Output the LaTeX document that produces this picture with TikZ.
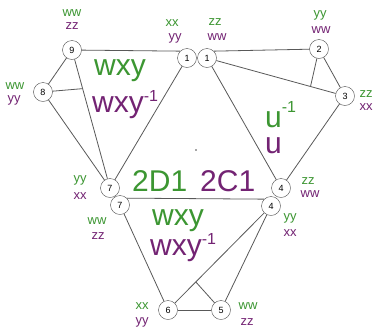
\documentclass[tikz,border=0pt]{standalone}
\usepackage{fontspec}
\setmainfont{Liberation Sans}
\usetikzlibrary{positioning,calc}
\definecolor{lblgreen}{RGB}{60,150,50}
\definecolor{lblpurple}{RGB}{115,35,115}
\newcommand{\invsup}[1][11pt]{\raisebox{#1}{\fontsize{16}{16}\selectfont -1}}

\begin{document}
\begin{tikzpicture}[x=1pt, y=-1pt, every node/.style={font=\fontsize{13}{13}\selectfont, inner sep=1pt}, v/.style={draw=black!70, circle, fill=white, minimum size=19pt, inner sep=0pt, font=\fontsize{9}{9}\selectfont}, edge/.style={draw=black!65, line width=0.8pt}, g/.style={text=lblgreen}, p/.style={text=lblpurple}, big/.style={font=\fontsize{30}{30}\selectfont, anchor=base west, inner sep=0pt}]
	\fill[white] (0,0) rectangle (374,330);
	\useasboundingbox (0,0) rectangle (374,330);
	% vertices
	\node[v] (9) at (72,50) {9};
	\node[v] (8) at (43,92) {8};
	\node[v] (1L) at (187,58) {1};
	\node[v] (1R) at (207,58) {1};
	\node[v] (2) at (319,49) {2};
	\node[v] (3) at (345,96) {3};
	\node[v] (7U) at (110,188) {7};
	\node[v] (7L) at (120,205) {7};
	\node[v] (4U) at (281,188) {4};
	\node[v] (4L) at (271,206) {4};
	\node[v] (6) at (168,310) {6};
	\node[v] (5) at (221,310) {5};
	% edges
	\coordinate (j8) at ($(9)!0.28!(7U)$);
	\coordinate (j2) at ($(1R)!0.75!(3)$);
	\coordinate (j5) at ($(6)!0.27!(4L)$);
	\draw[edge] (9) -- (8);
	\draw[edge] (9) -- (7U);
	\draw[edge] (8) -- (7U);
	\draw[edge] (8) -- (j8);
	\draw[edge] (9) -- (1L.north west);
	\draw[edge] (1R.north east) -- (2);
	\draw[edge] (1R) -- (3);
	\draw[edge] (2) -- (3);
	\draw[edge] (2) -- (j2);
	\draw[edge] (1L) -- (7U);
	\draw[edge] (1R) -- (4U);
	\draw[edge] (3) -- (4U);
	\draw[edge] (7L.north east) -- (4L.north west);
	\draw[edge] (7L) -- (6);
	\draw[edge] (4L) -- (6);
	\draw[edge] (4L) -- (5);
	\draw[edge] (6) -- (5);
	\draw[edge] (5) -- (j5);
	% small labels
	\node[g] (l9a) at (72,13) {ww};
	\node[p] (l9b) at (72,26) {zz};
	\node[g] (l8a) at (15,86) {ww};
	\node[p] (l8b) at (14,100) {yy};
	\node[g] (l1a) at (172,23) {xx};
	\node[p] (l1b) at (175,38) {yy};
	\node[g] (l1c) at (215,22) {zz};
	\node[p] (l1d) at (217,37) {ww};
	\node[g] (l2a) at (320,15) {yy};
	\node[p] (l2b) at (321,30) {ww};
	\node[g] (l3a) at (366,94) {zz};
	\node[p] (l3b) at (366,107) {xx};
	\node[g] (l7a) at (80,180) {yy};
	\node[p] (l7b) at (80,196) {xx};
	\node[g] (l7c) at (97,221) {ww};
	\node[p] (l7d) at (98,236) {zz};
	\node[g] (l4a) at (308,181) {zz};
	\node[p] (l4b) at (310,194) {ww};
	\node[g] (l4c) at (290,218) {yy};
	\node[p] (l4d) at (290,233) {xx};
	\node[g] (l6a) at (142,306) {xx};
	\node[p] (l6b) at (142,322) {yy};
	\node[g] (l5a) at (248,306) {ww};
	\node[p] (l5b) at (247,322) {zz};
	% face words
	\node[big, g] (w1) at (94,75) {wxy};
	\node[big, p] (w2) at (92,112) {wxy\invsup};
	\node[big, g] (u1) at (265,127) {u\invsup[15pt]};
	\node[big, p] (u2) at (265,153) {u};
	\node[big, g] (d1) at (132,191) {2D1};
	\node[big, p] (c1) at (200,191) {2C1};
	\node[big, g] (w3) at (152,225) {wxy};
	\node[big, p] (w4) at (150,255) {wxy\invsup};
	\fill[black!70] (196,150) circle (0.8);
\end{tikzpicture}
\end{document}
